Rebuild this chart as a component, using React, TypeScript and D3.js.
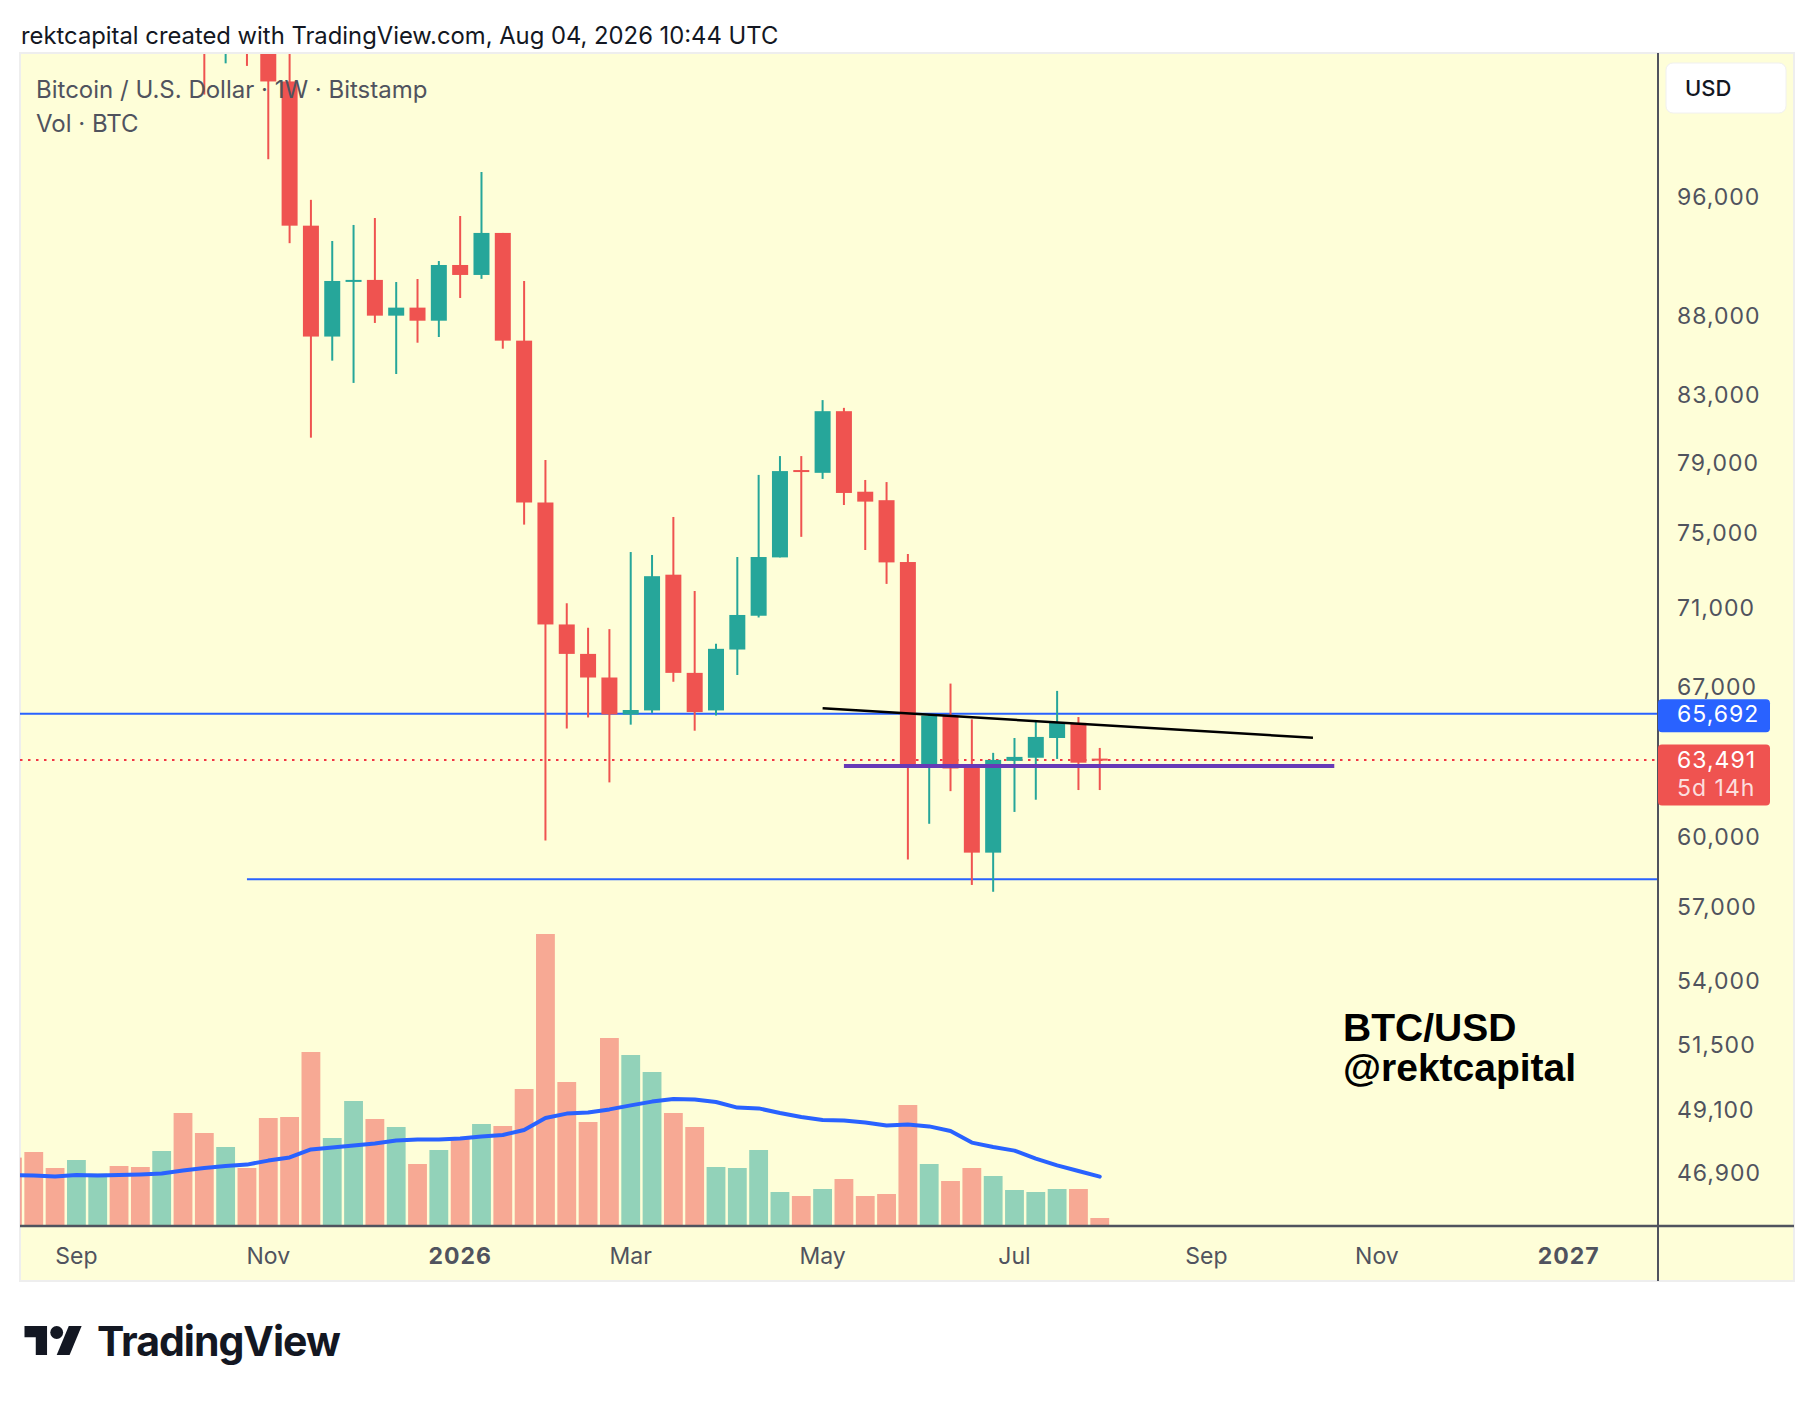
import { useRef, useEffect } from 'react';
import * as d3 from 'd3';

// weekly candles (Bitstamp BTC/USD, 1W)
const weeks = [
  "2025-08-11", "2025-08-18", "2025-08-25", "2025-09-01", "2025-09-08", "2025-09-15", "2025-09-22", "2025-09-29",
  "2025-10-06", "2025-10-13", "2025-10-20", "2025-10-27", "2025-11-03", "2025-11-10", "2025-11-17", "2025-11-24",
  "2025-12-01", "2025-12-08", "2025-12-15", "2025-12-22", "2025-12-29", "2026-01-05", "2026-01-12", "2026-01-19",
  "2026-01-26", "2026-02-02", "2026-02-09", "2026-02-16", "2026-02-23", "2026-03-02", "2026-03-09", "2026-03-16",
  "2026-03-23", "2026-03-30", "2026-04-06", "2026-04-13", "2026-04-20", "2026-04-27", "2026-05-04", "2026-05-11",
  "2026-05-18", "2026-05-25", "2026-06-01", "2026-06-08", "2026-06-15", "2026-06-22", "2026-06-29", "2026-07-06",
  "2026-07-13", "2026-07-20", "2026-07-27", "2026-08-03",
];
const opens = [
  119300, 117400, 113500, 108300, 111200, 115300, 115200, 112100,
  123500, 115100, 108600, 114500, 110500, 104500, 94000, 86650,
  90200, 90330, 87990, 88510, 87665, 91325, 90660, 93500,
  86390, 76710, 70140, 68640, 67460, 65650, 65850, 72750,
  67690, 65850, 68860, 70590, 73680, 78560, 78400, 82030,
  77320, 76840, 73430, 63200, 65590, 63160, 59320, 63455,
  63600, 64530, 65250, 63560,
];
const highs = [
  124500, 117600, 113600, 113400, 116800, 117900, 115400, 125700,
  126200, 115900, 116000, 116400, 111200, 107500, 95800, 92950,
  94050, 94530, 90190, 90390, 91590, 94670, 97780, 93500,
  90260, 79140, 71240, 69970, 69900, 73970, 73810, 75900,
  71885, 69150, 73700, 78280, 79370, 79370, 82700, 82230,
  77990, 77870, 73870, 65650, 67160, 65420, 63830, 64530,
  65390, 66800, 65530, 64060,
];
const lows = [
  116900, 111700, 107300, 107300, 110600, 114400, 108600, 111500,
  107500, 103500, 105900, 105700, 98700, 92800, 80450, 85130,
  83750, 87520, 84300, 86260, 86620, 89140, 90400, 85880,
  75475, 59850, 64980, 65510, 62460, 65165, 65730, 67250,
  64876, 65600, 67585, 70500, 73680, 74800, 78050, 76570,
  74080, 72260, 59020, 60590, 62060, 57930, 57640, 61120,
  61670, 63545, 62110, 62110,
];
const closes = [
  117400, 113500, 108300, 111200, 115300, 115200, 112100, 123500,
  115100, 108600, 114500, 110500, 104500, 94000, 86650, 90260,
  90330, 87990, 88510, 87665, 91325, 90660, 93500, 86390,
  76710, 70140, 68640, 67460, 65655, 65870, 72670, 67690,
  65770, 68896, 70630, 73700, 78500, 78480, 82030, 77250,
  76760, 73410, 63200, 65600, 63100, 59320, 63500, 63640,
  64580, 65260, 63370, 63491,
];
const volumes = [
  3420, 3700, 2900, 3300, 2620, 3000, 2950, 3750,
  5650, 4650, 3950, 2900, 5400, 5450, 8700, 4400,
  6250, 5350, 4950, 3100, 3800, 4450, 5100, 5000,
  6850, 14600, 7200, 5200, 9400, 8550, 7700, 5650,
  4950, 2950, 2900, 3800, 1700, 1500, 1850, 2350,
  1500, 1600, 6050, 3100, 2250, 2900, 2500, 1800,
  1700, 1850, 1850, 400,
];
const volumeMA = [
  2550, 2530, 2470, 2550, 2520, 2550, 2580, 2630,
  2770, 2900, 3000, 3070, 3270, 3430, 3830, 3930,
  4030, 4130, 4280, 4320, 4330, 4380, 4480, 4550,
  4800, 5400, 5620, 5670, 5830, 6030, 6220, 6350,
  6330, 6200, 5920, 5880, 5650, 5450, 5300, 5280,
  5180, 5030, 5070, 4980, 4750, 4170, 3950, 3770,
  3370, 3030, 2750, 2470,
];

const priceTicks = [96000, 88000, 83000, 79000, 75000, 71000, 67000, 60000, 57000, 54000, 51500, 49100, 46900];
const timeTickDates = ["2025-09-01", "2025-11-03", "2026-01-05", "2026-03-02", "2026-05-04", "2026-07-06", "2026-09-07", "2026-11-02", "2027-01-04"];
const timeTickLabels = ["Sep", "Nov", "2026", "Mar", "May", "Jul", "Sep", "Nov", "2027"];

const resistanceLevel = 65692;
const supportLevel = 58170;
const supportStart = "2025-10-27";
const lastPrice = 63491;
const countdown = "5d 14h";
const trendDates = ["2026-05-04", "2026-10-12"];
const trendPrices = [65950, 64540];
const baseDates = ["2026-05-11", "2026-10-19"];
const baseLevel = 63220;

const W = 1814;
const H = 1402;
const FONT = "Inter, 'Noto Sans', sans-serif";

export default function App() {
  const svgRef = useRef<SVGSVGElement>(null);

  useEffect(() => {
    if (!svgRef.current) return;
    document.body.style.margin = "0";
    const svg = d3.select(svgRef.current);
    svg.selectAll("*").remove();

    const frame = { left: 20, top: 53, right: 1794, bottom: 1281 };
    const axisX = 1658;
    const axisY = 1226;
    const bg = "#fefed8";
    const up = "#26a69a";
    const down = "#ef5350";
    const textGray = "#50535e";

    const x = d3.scaleUtc()
      .domain([new Date("2025-09-01"), new Date("2027-01-04")])
      .range([76.4, 1568.8]);
    const y = d3.scaleLog().domain([96000, 46900]).range([197, 1172.6]);
    const yVol = d3.scaleLinear().domain([0, 15000]).range([axisY, axisY - 300]);

    svg.append("rect").attr("width", W).attr("height", H).attr("fill", "#ffffff");

    // title
    svg.append("text")
      .attr("x", 21).attr("y", 44)
      .style("font-family", FONT).style("font-size", "23.8px")
      .attr("fill", "#131722")
      .text("rektcapital created with TradingView.com, Aug 04, 2026 10:44 UTC");

    // chart background
    svg.append("rect")
      .attr("x", frame.left).attr("y", frame.top)
      .attr("width", frame.right - frame.left).attr("height", frame.bottom - frame.top)
      .attr("fill", bg).attr("stroke", "#eeeeee").attr("stroke-width", 2);

    const defs = svg.append("defs");
    defs.append("clipPath").attr("id", "plot")
      .append("rect")
      .attr("x", frame.left).attr("y", frame.top + 1)
      .attr("width", axisX - frame.left).attr("height", axisY - frame.top - 1);

    const plot = svg.append("g").attr("clip-path", "url(#plot)");

    // volume bars
    plot.selectAll(".vol")
      .data(weeks)
      .enter()
      .append("rect")
      .attr("x", (d) => x(new Date(d)) - 9.4)
      .attr("y", (_, i) => yVol(volumes[i]))
      .attr("width", 18.8)
      .attr("height", (_, i) => axisY - yVol(volumes[i]))
      .attr("fill", (_, i) => closes[i] >= opens[i] ? up : down)
      .attr("fill-opacity", 0.5);

    // volume moving average
    const maLine = d3.line<string>()
      .x((d) => x(new Date(d)))
      .y((_, i) => yVol(volumeMA[i]));
    plot.append("path")
      .datum(weeks)
      .attr("d", maLine)
      .attr("fill", "none")
      .attr("stroke", "#2962ff")
      .attr("stroke-width", 4)
      .attr("stroke-linejoin", "round")
      .attr("stroke-linecap", "round");

    // horizontal levels
    plot.append("line")
      .attr("x1", frame.left).attr("x2", axisX)
      .attr("y1", y(resistanceLevel)).attr("y2", y(resistanceLevel))
      .attr("stroke", "#2962ff").attr("stroke-width", 2);
    plot.append("line")
      .attr("x1", x(new Date(supportStart))).attr("x2", axisX)
      .attr("y1", y(supportLevel)).attr("y2", y(supportLevel))
      .attr("stroke", "#2962ff").attr("stroke-width", 2);
    plot.append("line")
      .attr("x1", frame.left).attr("x2", axisX)
      .attr("y1", y(lastPrice)).attr("y2", y(lastPrice))
      .attr("stroke", "#f23645").attr("stroke-width", 2)
      .attr("stroke-dasharray", "2.5 5.5");

    // candles
    const candles = plot.selectAll(".candle")
      .data(weeks)
      .enter()
      .append("g");
    candles.append("line")
      .attr("x1", (d) => x(new Date(d))).attr("x2", (d) => x(new Date(d)))
      .attr("y1", (_, i) => y(highs[i])).attr("y2", (_, i) => y(lows[i]))
      .attr("stroke", (_, i) => closes[i] >= opens[i] ? up : down)
      .attr("stroke-width", 2);
    candles.append("rect")
      .attr("x", (d) => x(new Date(d)) - 8)
      .attr("y", (_, i) => y(Math.max(opens[i], closes[i])))
      .attr("width", 16)
      .attr("height", (_, i) => Math.max(2, Math.abs(y(opens[i]) - y(closes[i]))))
      .attr("fill", (_, i) => closes[i] >= opens[i] ? up : down);

    // drawn lines
    plot.append("line")
      .attr("x1", x(new Date(trendDates[0]))).attr("x2", x(new Date(trendDates[1])))
      .attr("y1", y(trendPrices[0])).attr("y2", y(trendPrices[1]))
      .attr("stroke", "#000000").attr("stroke-width", 2.5);
    plot.append("line")
      .attr("x1", x(new Date(baseDates[0]))).attr("x2", x(new Date(baseDates[1])))
      .attr("y1", y(baseLevel)).attr("y2", y(baseLevel))
      .attr("stroke", "#673ab7").attr("stroke-width", 4);

    // legend
    svg.append("text")
      .attr("x", 36).attr("y", 97.5)
      .style("font-family", FONT).style("font-size", "24px")
      .attr("fill", textGray)
      .text("Bitcoin / U.S. Dollar · 1W · Bitstamp");
    svg.append("text")
      .attr("x", 36).attr("y", 131.5)
      .style("font-family", FONT).style("font-size", "24px")
      .attr("fill", textGray)
      .text("Vol · BTC");

    // watermark
    const mark = svg.append("g")
      .style("font-family", "'Liberation Sans', Arial, sans-serif")
      .style("font-size", "39px").style("font-weight", "700")
      .attr("fill", "#000000");
    mark.append("text").attr("x", 1343).attr("y", 1041).text("BTC/USD");
    mark.append("text").attr("x", 1343).attr("y", 1081).text("@rektcapital");

    // axes frame
    svg.append("line")
      .attr("x1", axisX).attr("x2", axisX)
      .attr("y1", frame.top).attr("y2", frame.bottom)
      .attr("stroke", "#50535e").attr("stroke-width", 2);
    svg.append("line")
      .attr("x1", frame.left).attr("x2", frame.right)
      .attr("y1", axisY).attr("y2", axisY)
      .attr("stroke", "#50535e").attr("stroke-width", 2.5);

    // price axis labels
    svg.append("g")
      .selectAll("text")
      .data(priceTicks)
      .enter()
      .append("text")
      .attr("x", 1677)
      .attr("y", (d) => y(d))
      .attr("dy", "0.36em")
      .style("font-family", FONT).style("font-size", "23px")
      .style("letter-spacing", "1px")
      .attr("fill", textGray)
      .text((d) => d3.format(",")(d));

    // price tags
    const tag = (price: number, color: string, lines: string[], h: number, topY: number) => {
      svg.append("rect")
        .attr("x", axisX).attr("y", topY)
        .attr("width", 1770 - axisX).attr("height", h)
        .attr("rx", 4)
        .attr("fill", color);
      lines.forEach((t, i) => {
        svg.append("text")
          .attr("x", 1677)
          .attr("y", y(price) + i * 28)
          .attr("dy", "0.36em")
          .style("font-family", FONT).style("font-size", "23px")
          .style("letter-spacing", "1px")
          .attr("fill", "#ffffff")
          .attr("fill-opacity", i === 0 ? 1 : 0.82)
          .text(t);
      });
    };
    tag(resistanceLevel, "#2962ff", [d3.format(",")(resistanceLevel)], 33, y(resistanceLevel) - 14.5);
    tag(lastPrice, "#ef5350", [d3.format(",")(lastPrice), countdown], 61, y(lastPrice) - 15.5);

    // currency box
    svg.append("rect")
      .attr("x", 1666).attr("y", 63)
      .attr("width", 120).attr("height", 50)
      .attr("rx", 7)
      .attr("fill", "#ffffff").attr("stroke", "#f0f0f0");
    svg.append("text")
      .attr("x", 1685).attr("y", 88)
      .attr("dy", "0.36em")
      .style("font-family", FONT).style("font-size", "22px").style("font-weight", "500")
      .attr("fill", "#131722")
      .text("USD");

    // time axis labels
    svg.append("g")
      .selectAll("text")
      .data(timeTickDates)
      .enter()
      .append("text")
      .attr("x", (d) => x(new Date(d)))
      .attr("y", 1264)
      .attr("text-anchor", "middle")
      .style("font-family", FONT).style("font-size", "23px")
      .style("font-weight", (_, i) => /^\d+$/.test(timeTickLabels[i]) ? "700" : "400")
      .style("letter-spacing", (_, i) => /^\d+$/.test(timeTickLabels[i]) ? "1px" : "0px")
      .attr("fill", textGray)
      .text((_, i) => timeTickLabels[i]);

    // TradingView logo
    const logo = svg.append("g").attr("transform", "translate(24.5,1319.6) scale(1.61)").attr("fill", "#131722");
    logo.append("path").attr("d", "M14 22H7V11H0V4h14v18z");
    logo.append("path").attr("d", "M28 22h-8l7.5-18h8L28 22z");
    logo.append("circle").attr("cx", 20).attr("cy", 8).attr("r", 4);
    svg.append("text")
      .attr("x", 97).attr("y", 1356)
      .style("font-family", FONT).style("font-size", "41px").style("font-weight", "700")
      .style("letter-spacing", "-1px")
      .attr("fill", "#131722")
      .text("TradingView");
  }, []);

  return <svg ref={svgRef} width={W} height={H} style={{ display: "block" }} />;
}
